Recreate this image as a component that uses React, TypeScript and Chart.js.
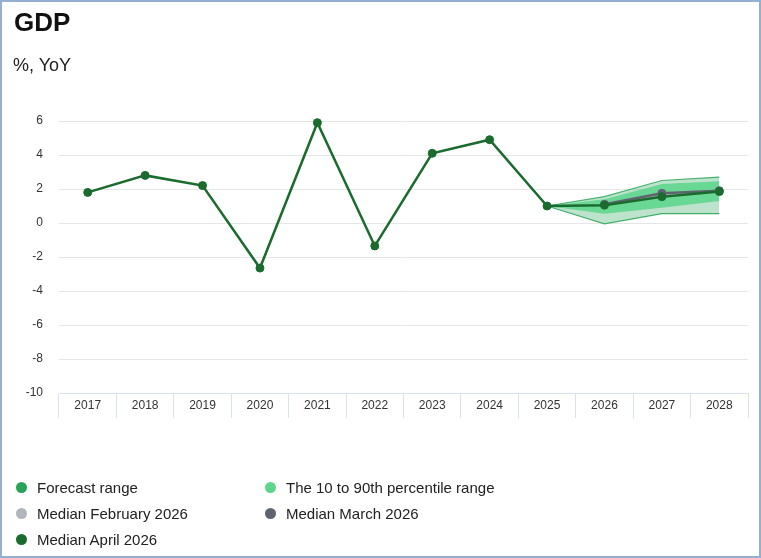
import React, { useEffect, useRef } from "react";
import { Chart, registerables } from "chart.js";

Chart.register(...registerables);

const categories = ["2017", "2018", "2019", "2020", "2021", "2022", "2023", "2024", "2025", "2026", "2027", "2028"];
const medianApril = [1.8, 2.8, 2.2, -2.65, 5.9, -1.35, 4.1, 4.9, 1.0, 1.05, 1.55, 1.85];
const medianMarch = [null, null, null, null, null, null, null, null, null, 1.1, 1.75, 1.9];
const medianFebruary = [null, null, null, null, null, null, null, null, null, 1.1, 1.7, 1.85];
const forecastLow = [null, null, null, null, null, null, null, null, 1.0, -0.05, 0.55, 0.55];
const forecastHigh = [null, null, null, null, null, null, null, null, 1.0, 1.55, 2.5, 2.7];
const pct10 = [null, null, null, null, null, null, null, null, 1.0, 0.55, 0.9, 1.3];
const pct90 = [null, null, null, null, null, null, null, null, 1.0, 1.4, 2.3, 2.45];
const yTicks = [6, 4, 2, 0, -2, -4, -6, -8, -10];

const legendItems = [
  { label: "Forecast range", color: "#27a35a", col: 0, row: 0 },
  { label: "The 10 to 90th percentile range", color: "#5dd68c", col: 1, row: 0 },
  { label: "Median February 2026", color: "#b1b5bd", col: 0, row: 1 },
  { label: "Median March 2026", color: "#5d6470", col: 1, row: 1 },
  { label: "Median April 2026", color: "#1b6b2f", col: 0, row: 2 },
];

const FONT = "'Liberation Sans', Arial, sans-serif";

export default function App() {
  const ref = useRef<HTMLCanvasElement | null>(null);

  useEffect(() => {
    document.body.style.margin = "0";
    const canvas = ref.current;
    if (!canvas) return;
    const chart = new Chart(canvas, {
      type: "line",
      data: {
        labels: categories,
        datasets: [
          {
            label: "Forecast range low",
            data: forecastLow,
            borderColor: "#46b36f",
            borderWidth: 1.2,
            pointRadius: 0,
            fill: false,
            order: 6,
            clip: false,
          },
          {
            label: "Forecast range",
            data: forecastHigh,
            borderColor: "#46b36f",
            borderWidth: 1.2,
            backgroundColor: "rgba(39,163,90,0.3)",
            pointRadius: 0,
            fill: "-1",
            order: 5,
            clip: false,
          },
          {
            label: "P10",
            data: pct10,
            borderWidth: 0,
            borderColor: "rgba(0,0,0,0)",
            pointRadius: 0,
            fill: false,
            order: 4,
            clip: false,
          },
          {
            label: "The 10 to 90th percentile range",
            data: pct90,
            borderWidth: 0,
            borderColor: "rgba(0,0,0,0)",
            backgroundColor: "rgba(93,214,140,0.88)",
            pointRadius: 0,
            fill: "-1",
            order: 3,
            clip: false,
          },
          {
            label: "Median February 2026",
            data: medianFebruary,
            borderColor: "#b1b5bd",
            backgroundColor: "#b1b5bd",
            borderWidth: 2.5,
            pointRadius: 4,
            pointBorderWidth: 1,
            fill: false,
            order: 2,
            clip: false,
          },
          {
            label: "Median March 2026",
            data: medianMarch,
            borderColor: "#5d6470",
            backgroundColor: "#5d6470",
            borderWidth: 2.5,
            pointRadius: 4,
            pointBorderWidth: 1,
            fill: false,
            order: 1,
            clip: false,
          },
          {
            label: "Median April 2026",
            data: medianApril,
            borderColor: "#1b6b2f",
            backgroundColor: "#1b6b2f",
            borderWidth: 2.5,
            pointRadius: 4,
            pointBorderWidth: 1,
            fill: false,
            order: 0,
            clip: false,
          },
        ],
      },
      options: {
        animation: false,
        responsive: false,
        devicePixelRatio: 1,
        layout: { padding: { left: 0, right: 13, top: 121, bottom: 0 } },
        elements: { line: { tension: 0 } },
        plugins: {
          legend: { display: false },
          tooltip: { enabled: false },
          title: { display: false },
        },
        scales: {
          x: {
            type: "category",
            offset: true,
            grid: {
              offset: true,
              drawOnChartArea: false,
              drawTicks: true,
              tickLength: 25,
              color: "#d9e0f0",
              lineWidth: 1,
            },
            border: { display: true, color: "#d9e0f0", width: 1 },
            ticks: {
              padding: -20,
              color: "#333333",
              font: { family: FONT, size: 12 },
              maxRotation: 0,
              autoSkip: false,
            },
            afterFit: (scale: any) => {
              scale.height = 165;
            },
          },
          y: {
            min: -10,
            max: 6,
            afterBuildTicks: (scale: any) => {
              scale.ticks = yTicks.map((v) => ({ value: v }));
            },
            grid: {
              color: "#e6e6e6",
              lineWidth: 1,
              drawTicks: false,
            },
            border: { display: false },
            ticks: {
              padding: 16,
              color: "#333333",
              font: { family: FONT, size: 12 },
            },
            afterFit: (scale: any) => {
              scale.width = 59;
            },
          },
        },
      },
    });
    return () => chart.destroy();
  }, []);

  return (
    <div
      style={{
        position: "fixed",
        left: 0,
        top: 0,
        width: 761,
        height: 558,
        background: "#ffffff",
        fontFamily: FONT,
        overflow: "hidden",
      }}
    >
      <canvas ref={ref} width={761} height={558} style={{ position: "absolute", left: 0, top: 0, width: 761, height: 558 }} />
      <div
        style={{
          position: "absolute",
          left: 14,
          top: 9,
          fontSize: 26,
          lineHeight: "26px",
          fontWeight: "bold",
          color: "#111111",
        }}
      >
        GDP
      </div>
      <div
        style={{
          position: "absolute",
          left: 13,
          top: 56,
          fontSize: 18,
          lineHeight: "18px",
          color: "#222222",
        }}
      >
        %, YoY
      </div>
      {legendItems.map((item) => (
        <div
          key={item.label}
          style={{
            position: "absolute",
            left: item.col === 0 ? 16 : 265,
            top: 478 + item.row * 25.8,
            height: 20,
            display: "flex",
            alignItems: "center",
            fontSize: 15,
            lineHeight: "20px",
            color: "#222222",
            whiteSpace: "nowrap",
          }}
        >
          <span
            style={{
              display: "inline-block",
              width: 11,
              height: 11,
              borderRadius: "50%",
              background: item.color,
              marginRight: 10,
              position: "relative",
              top: -0.5,
            }}
          />
          <span>{item.label}</span>
        </div>
      ))}
      <div
        style={{
          position: "absolute",
          left: 0,
          top: 0,
          width: 761,
          height: 558,
          boxSizing: "border-box",
          border: "2px solid #94afd2",
          pointerEvents: "none",
        }}
      />
    </div>
  );
}
